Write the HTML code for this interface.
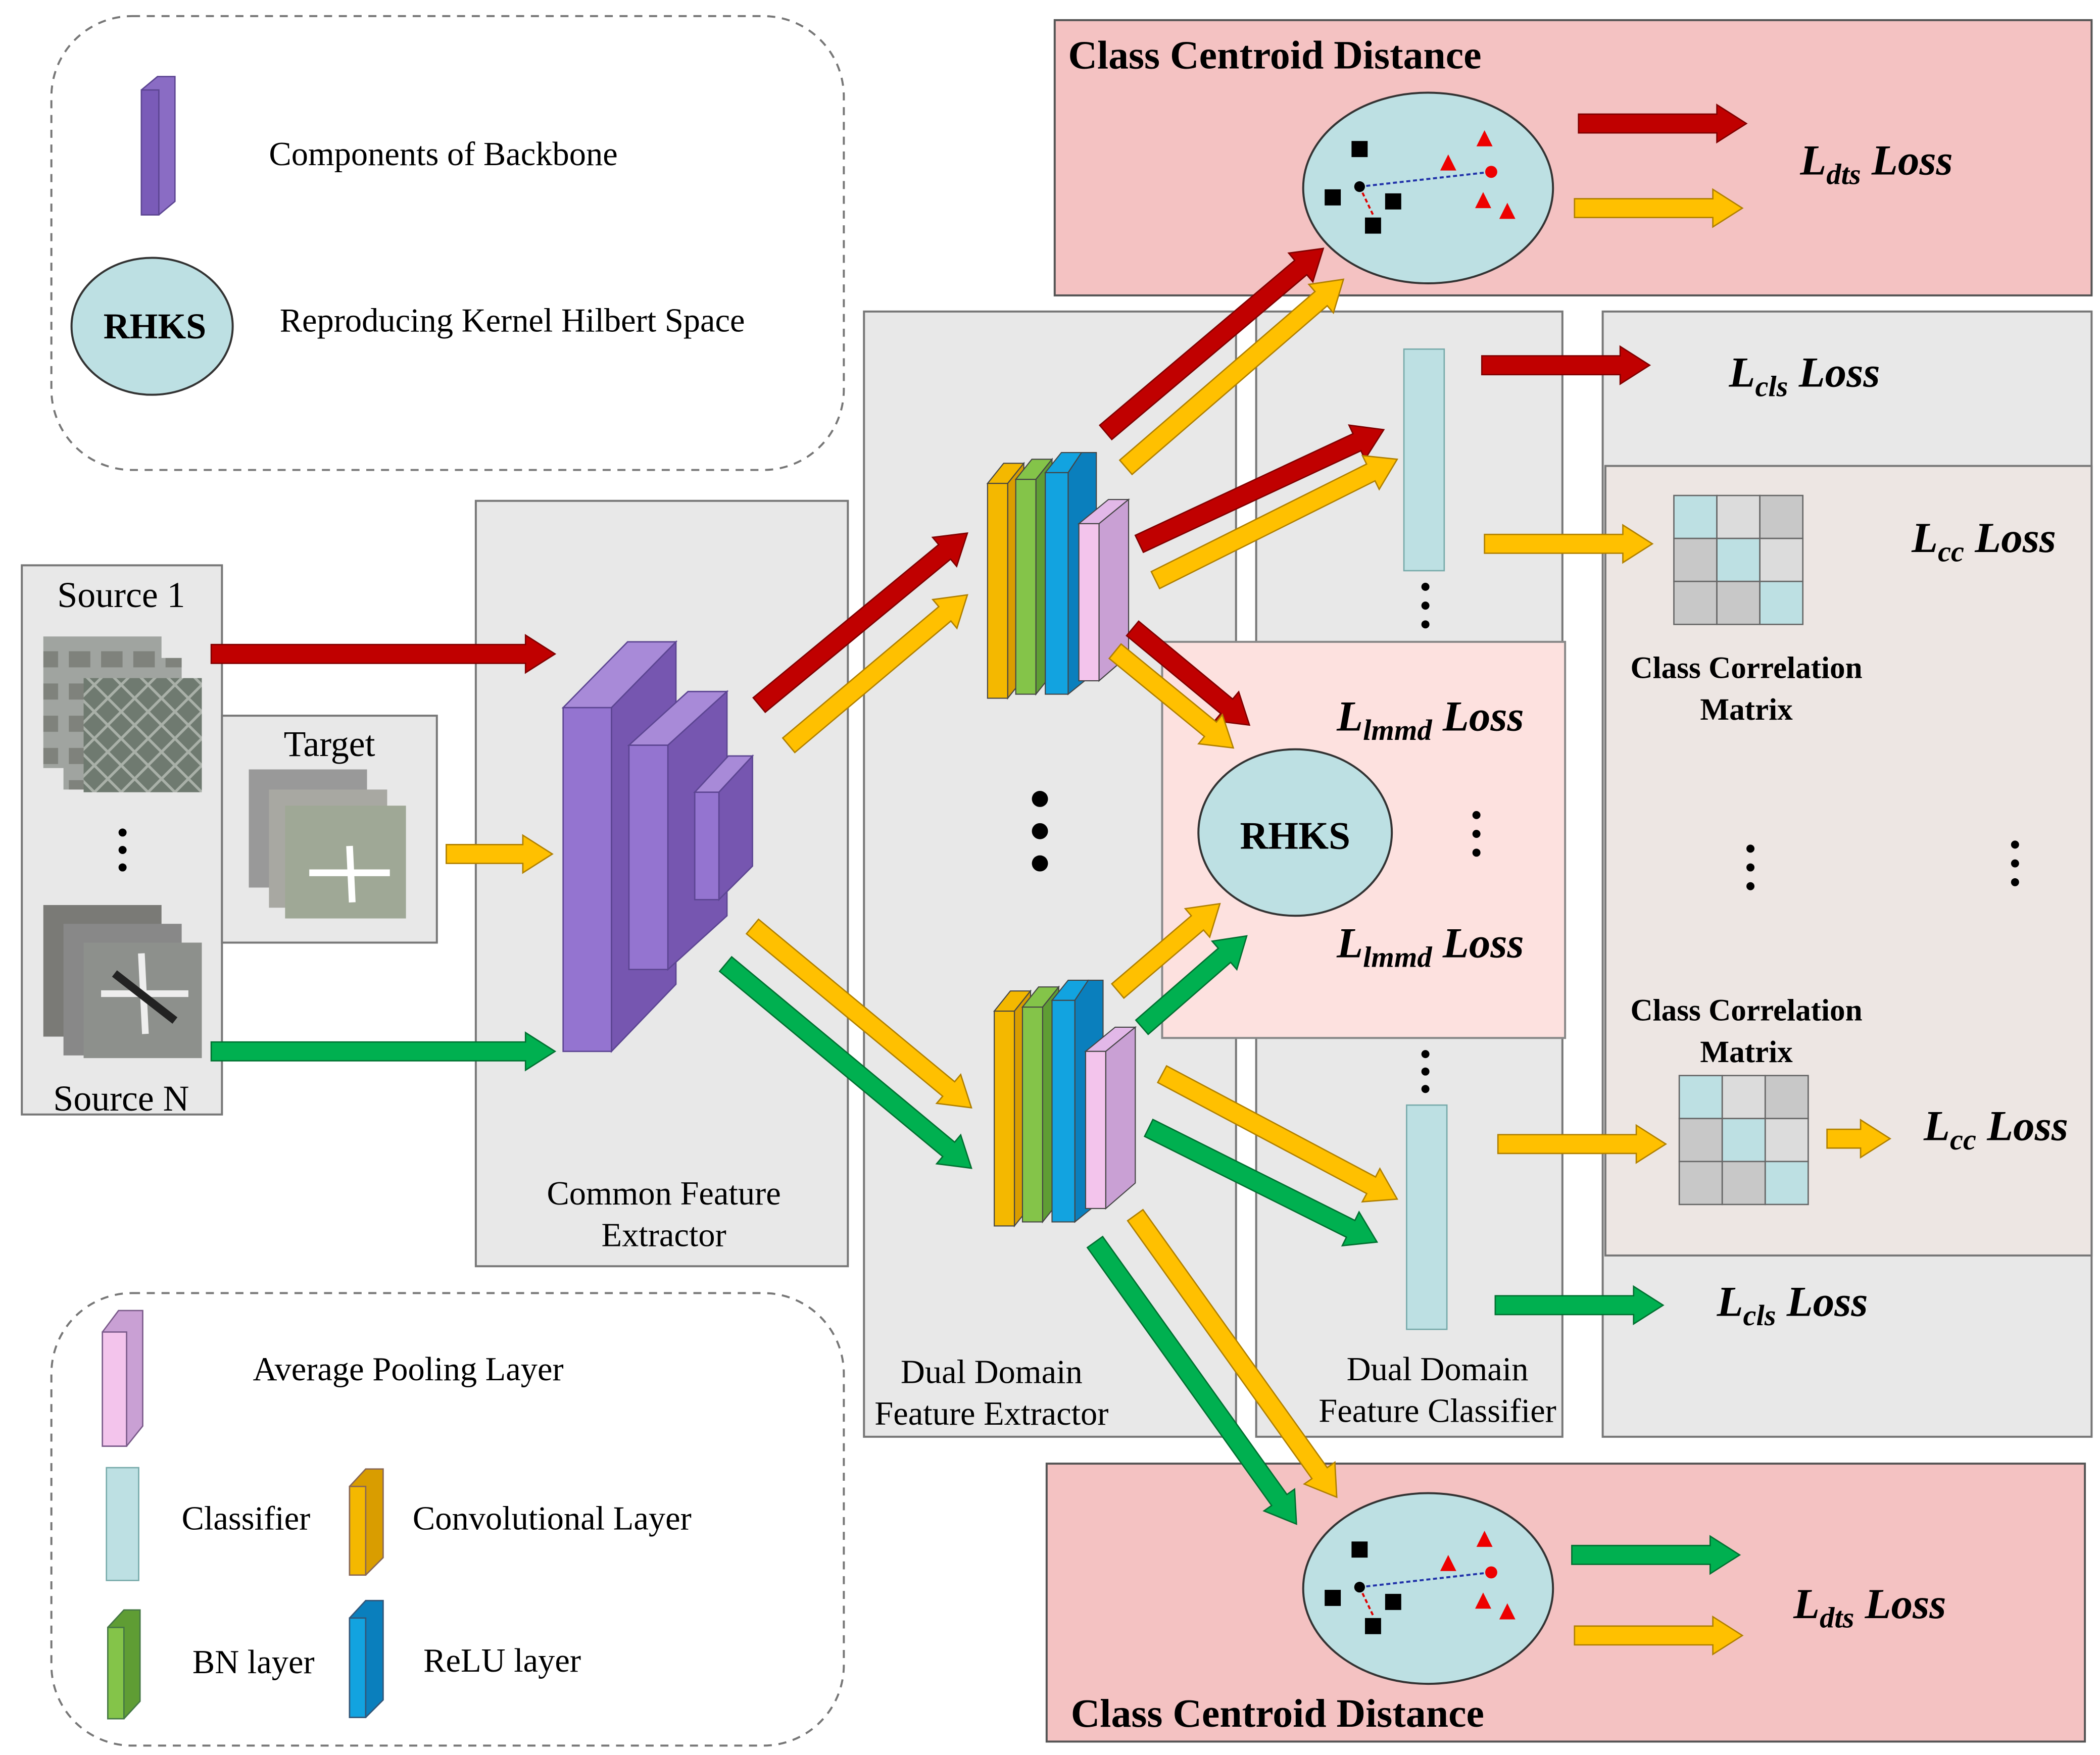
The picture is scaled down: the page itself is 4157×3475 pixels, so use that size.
<!DOCTYPE html>
<html><head><meta charset="utf-8"><style>html,body{margin:0;padding:0;background:#fff}svg{display:block}</style></head>
<body>
<svg id="s" width="4157" height="3475" viewBox="0 0 1563 1307" xmlns="http://www.w3.org/2000/svg" font-family="Liberation Serif, serif">
<defs>
<pattern id="aer" width="20" height="20" patternUnits="userSpaceOnUse">
<rect width="20" height="20" fill="#6f7a70"/><path d="M0 0L20 20M20 0L0 20" stroke="#a9b0a8" stroke-width="2"/>
</pattern>
<pattern id="apt" width="24" height="24" patternUnits="userSpaceOnUse">
<rect width="24" height="24" fill="#a0a4a0"/><rect x="3" y="5" width="16" height="12" fill="#7f827c"/>
</pattern>
</defs>
<rect x="38" y="12" width="590" height="338" rx="60" fill="none" stroke="#777" stroke-width="1.5" stroke-dasharray="6,5"/>
<polygon points="105,67 117,57 130,57 130,150 118,160 105,160" fill="#8a6cc4" stroke="#5c4592"/>
<rect x="105" y="67" width="13" height="93" fill="#7a5bb8" stroke="#5c4592"/>
<text x="200" y="123" font-size="25">Components of  Backbone</text>
<ellipse cx="113" cy="243" rx="60" ry="51" fill="#bde0e3" stroke="#333" stroke-width="1.5"/>
<text x="115" y="252" font-size="27" font-weight="bold" text-anchor="middle">RHKS</text>
<text x="208" y="247" font-size="25">Reproducing Kernel Hilbert Space</text>
<rect x="38" y="963" width="590" height="337" rx="60" fill="none" stroke="#777" stroke-width="1.5" stroke-dasharray="6,5"/>
<polygon points="76,992 88,976 106,976 106,1062 94,1077 76,1077" fill="#c9a0d4" stroke="#7a5a8a"/>
<rect x="76" y="992" width="18" height="85" fill="#f3c4ec" stroke="#7a5a8a"/>
<text x="188" y="1028" font-size="25">Average Pooling Layer</text>
<rect x="79" y="1093" width="24" height="84" fill="#bde0e3" stroke="#7aa"/>
<text x="135" y="1139" font-size="25">Classifier</text>
<polygon points="260,1107 272,1094 285,1094 285,1160 272,1173 260,1173" fill="#d99d00" stroke="#865"/>
<rect x="260" y="1107" width="12" height="66" fill="#f4b800" stroke="#865"/>
<text x="307" y="1139" font-size="25">Convolutional Layer</text>
<polygon points="80,1212 92,1199 104,1199 104,1267 92,1280 80,1280" fill="#5f9d34" stroke="#474"/>
<rect x="80" y="1212" width="12" height="68" fill="#84c449" stroke="#474"/>
<text x="143" y="1246" font-size="25">BN layer</text>
<polygon points="260,1205 272,1192 285,1192 285,1266 272,1279 260,1279" fill="#0a7fbd" stroke="#357"/>
<rect x="260" y="1205" width="12" height="74" fill="#12a3e0" stroke="#357"/>
<text x="315" y="1245" font-size="25">ReLU layer</text>
<rect x="785" y="15" width="772" height="205" fill="#f4c2c2" stroke="#555" stroke-width="1.5"/>
<text x="795" y="51" font-size="30" font-weight="bold">Class Centroid Distance</text>
<rect x="643" y="232" width="277" height="838" fill="#e8e8e8" stroke="#777" stroke-width="1.5"/>
<rect x="935" y="232" width="228" height="838" fill="#e8e8e8" stroke="#777" stroke-width="1.5"/>
<rect x="1193" y="232" width="364" height="838" fill="#e8e8e8" stroke="#777" stroke-width="1.5"/>
<rect x="1195" y="347" width="362" height="588" fill="#ede6e3" stroke="#777" stroke-width="1.5"/>
<rect x="865" y="478" width="300" height="295" fill="#fde1df" stroke="#888" stroke-width="1.5"/>
<rect x="354" y="373" width="277" height="570" fill="#e8e8e8" stroke="#777" stroke-width="1.5"/>
<rect x="16" y="421" width="149" height="409" fill="#e8e8e8" stroke="#777" stroke-width="1.5"/>
<rect x="165" y="533" width="160" height="169" fill="#e8e8e8" stroke="#777" stroke-width="1.5"/>
<rect x="779" y="1090" width="773" height="207" fill="#f4c2c2" stroke="#555" stroke-width="1.5"/>
<text x="797" y="1286" font-size="30" font-weight="bold">Class Centroid Distance</text>
<rect x="32" y="474" width="88" height="98" fill="url(#apt)"/>
<rect x="47" y="490" width="88" height="98" fill="url(#apt)"/>
<rect x="62" y="505" width="88" height="85" fill="url(#aer)"/>
<rect x="32" y="674" width="88" height="98" fill="#7a7a76"/>
<rect x="47" y="688" width="88" height="98" fill="#888"/>
<rect x="62" y="702" width="88" height="86" fill="#8d908c"/>
<path d="M75 740 L140 740 M105 710 L108 770" stroke="#eee" stroke-width="5"/>
<path d="M85 725 L130 760" stroke="#222" stroke-width="6"/>
<rect x="185" y="573" width="88" height="88" fill="#999"/>
<rect x="200" y="588" width="88" height="88" fill="#a8a8a2"/>
<rect x="212" y="600" width="90" height="84" fill="#9fa896"/>
<path d="M230 650 L290 650 M260 630 L262 672" stroke="#fff" stroke-width="5"/>
<text x="90" y="452" font-size="27" text-anchor="middle">Source 1</text>
<text x="90" y="827" font-size="27" text-anchor="middle">Source N</text>
<text x="245" y="563" font-size="27" text-anchor="middle">Target</text>
<text x="494" y="897" font-size="25" text-anchor="middle">Common Feature</text>
<text x="494" y="928" font-size="25" text-anchor="middle">Extractor</text>
<text x="738" y="1030" font-size="25" text-anchor="middle">Dual Domain</text>
<text x="738" y="1061" font-size="25" text-anchor="middle">Feature Extractor</text>
<text x="1070" y="1028" font-size="25" text-anchor="middle">Dual Domain</text>
<text x="1070" y="1059" font-size="25" text-anchor="middle">Feature Classifier</text>
<g stroke="#5c4592" stroke-width="1">
<polygon points="419,527 467,478 503,478 455,527" fill="#a88ad8"/>
<polygon points="455,527 503,478 503,733 455,783" fill="#7656b0"/>
<rect x="419" y="527" width="36" height="256" fill="#9474d0"/>
<polygon points="468,555 497,555 541,515 512,515" fill="#a88ad8"/>
<polygon points="497,555 541,515 541,682 497,722" fill="#7656b0"/>
<rect x="468" y="555" width="29" height="167" fill="#9474d0"/>
<polygon points="517,590 535,590 560,563 542,563" fill="#a88ad8"/>
<polygon points="535,590 560,563 560,645 535,670" fill="#7656b0"/>
<rect x="517" y="590" width="18" height="80" fill="#9474d0"/>
</g>
<g id="lg1" stroke="#444" stroke-width="0.8">
<polygon points="735,360 747,345 762,345 750,360" fill="#f4b800"/><polygon points="750,360 762,345 762,505 750,520" fill="#d99d00"/><rect x="735" y="360" width="15" height="160" fill="#f4b800"/>
<polygon points="756,357 768,342 783,342 771,357" fill="#84c449"/><polygon points="771,357 783,342 783,502 771,517" fill="#5f9d34"/><rect x="756" y="357" width="15" height="160" fill="#84c449"/>
<polygon points="778,352 790,337 805,337 795,352" fill="#12a3e0"/><polygon points="795,352 805,337 816,337 816,500 795,517" fill="#0a7fbd"/><rect x="778" y="352" width="17" height="165" fill="#12a3e0"/>
<polygon points="803,390 818,390 840,372 825,372" fill="#e2b8e8"/><polygon points="818,390 840,372 840,488 818,507" fill="#c9a0d4"/><rect x="803" y="390" width="15" height="117" fill="#f3c4ec"/>
</g>
<g transform="translate(5,393)" stroke="#444" stroke-width="0.8">
<polygon points="735,360 747,345 762,345 750,360" fill="#f4b800"/><polygon points="750,360 762,345 762,505 750,520" fill="#d99d00"/><rect x="735" y="360" width="15" height="160" fill="#f4b800"/>
<polygon points="756,357 768,342 783,342 771,357" fill="#84c449"/><polygon points="771,357 783,342 783,502 771,517" fill="#5f9d34"/><rect x="756" y="357" width="15" height="160" fill="#84c449"/>
<polygon points="778,352 790,337 805,337 795,352" fill="#12a3e0"/><polygon points="795,352 805,337 816,337 816,500 795,517" fill="#0a7fbd"/><rect x="778" y="352" width="17" height="165" fill="#12a3e0"/>
<polygon points="803,390 818,390 840,372 825,372" fill="#e2b8e8"/><polygon points="818,390 840,372 840,488 818,507" fill="#c9a0d4"/><rect x="803" y="390" width="15" height="117" fill="#f3c4ec"/>
</g>
<rect x="1045" y="260" width="30" height="165" fill="#bde0e3" stroke="#7aa"/>
<rect x="1047" y="823" width="30" height="167" fill="#bde0e3" stroke="#7aa"/>
<g stroke="#666" stroke-width="1">
<rect x="1246" y="369" width="32" height="32" fill="#bde0e3"/><rect x="1278" y="369" width="32" height="32" fill="#dcdcdc"/><rect x="1310" y="369" width="32" height="32" fill="#c8c8c8"/>
<rect x="1246" y="401" width="32" height="32" fill="#c8c8c8"/><rect x="1278" y="401" width="32" height="32" fill="#bde0e3"/><rect x="1310" y="401" width="32" height="32" fill="#dcdcdc"/>
<rect x="1246" y="433" width="32" height="32" fill="#c8c8c8"/><rect x="1278" y="433" width="32" height="32" fill="#c8c8c8"/><rect x="1310" y="433" width="32" height="32" fill="#bde0e3"/>
<rect x="1250" y="801" width="32" height="32" fill="#bde0e3"/><rect x="1282" y="801" width="32" height="32" fill="#dcdcdc"/><rect x="1314" y="801" width="32" height="32" fill="#c8c8c8"/>
<rect x="1250" y="833" width="32" height="32" fill="#c8c8c8"/><rect x="1282" y="833" width="32" height="32" fill="#bde0e3"/><rect x="1314" y="833" width="32" height="32" fill="#dcdcdc"/>
<rect x="1250" y="865" width="32" height="32" fill="#c8c8c8"/><rect x="1282" y="865" width="32" height="32" fill="#c8c8c8"/><rect x="1314" y="865" width="32" height="32" fill="#bde0e3"/>
</g>
<g font-size="23" font-weight="bold" text-anchor="middle">
<text x="1300" y="505">Class Correlation</text><text x="1300" y="536">Matrix</text>
<text x="1300" y="760">Class Correlation</text><text x="1300" y="791">Matrix</text>
</g>
<ellipse cx="964" cy="620" rx="72" ry="62" fill="#bde0e3" stroke="#333" stroke-width="1.5"/>
<text x="964" y="632" font-size="29" font-weight="bold" text-anchor="middle">RHKS</text>
<g id="ce">
<ellipse cx="1063" cy="140" rx="93" ry="71" fill="#bde0e3" stroke="#333" stroke-width="1.5"/>
<line x1="1012" y1="139" x2="1110" y2="128" stroke="#2233aa" stroke-width="1.5" stroke-dasharray="3,2"/>
<line x1="1012" y1="139" x2="1022" y2="160" stroke="#d00" stroke-width="1.5" stroke-dasharray="3,2"/>
<rect x="1006" y="105" width="12" height="12" fill="#000"/><rect x="986" y="141" width="12" height="12" fill="#000"/>
<rect x="1031" y="144" width="12" height="12" fill="#000"/><rect x="1016" y="162" width="12" height="12" fill="#000"/>
<circle cx="1012" cy="139" r="4" fill="#000"/><circle cx="1110" cy="128" r="4.5" fill="#e00"/>
<polygon points="1105,97 1111,109 1099,109" fill="#e00"/><polygon points="1078,115 1084,127 1072,127" fill="#e00"/>
<polygon points="1104,143 1110,155 1098,155" fill="#e00"/><polygon points="1122,151 1128,163 1116,163" fill="#e00"/>
</g>
<use href="#ce" transform="translate(0,1043)"/>
<g fill="#000">
<circle cx="91" cy="620" r="3"/><circle cx="91" cy="633" r="3"/><circle cx="91" cy="646" r="3"/>
<circle cx="774" cy="595" r="6"/><circle cx="774" cy="619" r="6"/><circle cx="774" cy="643" r="6"/>
<circle cx="1061" cy="437" r="3"/><circle cx="1061" cy="451" r="3"/><circle cx="1061" cy="465" r="3"/>
<circle cx="1099" cy="607" r="3"/><circle cx="1099" cy="621" r="3"/><circle cx="1099" cy="635" r="3"/>
<circle cx="1303" cy="632" r="3"/><circle cx="1303" cy="646" r="3"/><circle cx="1303" cy="660" r="3"/>
<circle cx="1500" cy="629" r="3"/><circle cx="1500" cy="643" r="3"/><circle cx="1500" cy="657" r="3"/>
<circle cx="1061" cy="785" r="3"/><circle cx="1061" cy="798" r="3"/><circle cx="1061" cy="811" r="3"/>
</g>
<g font-size="32" font-weight="bold" font-style="italic">
<text x="1340" y="130">L<tspan font-size="22" dy="7">dts</tspan><tspan dy="-7"> Loss</tspan></text>
<text x="1287" y="288">L<tspan font-size="22" dy="7">cls</tspan><tspan dy="-7"> Loss</tspan></text>
<text x="1423" y="411">L<tspan font-size="22" dy="7">cc</tspan><tspan dy="-7"> Loss</tspan></text>
<text x="995" y="544">L<tspan font-size="22" dy="7">lmmd</tspan><tspan dy="-7"> Loss</tspan></text>
<text x="995" y="713">L<tspan font-size="22" dy="7">lmmd</tspan><tspan dy="-7"> Loss</tspan></text>
<text x="1432" y="849">L<tspan font-size="22" dy="7">cc</tspan><tspan dy="-7"> Loss</tspan></text>
<text x="1278" y="980">L<tspan font-size="22" dy="7">cls</tspan><tspan dy="-7"> Loss</tspan></text>
<text x="1335" y="1205">L<tspan font-size="22" dy="7">dts</tspan><tspan dy="-7"> Loss</tspan></text>
</g>
<g id="arrows"></g>
</svg>
<script>
var R=["#c00000","#800000"],Y=["#ffc000","#b08000"],G=["#00b050","#007030"];
var A=[[R,157,487,413,487],[G,157,783,413,783],[Y,332,636,411,636],
[R,565,525,720,397],[Y,587,555,720,443],[Y,560,690,723,825],[G,540,718,723,870],
[R,823,322,985,185],[Y,838,348,1000,208],[R,848,405,1030,320],[Y,860,432,1040,342],
[R,1103,272,1228,272],[Y,1105,405,1230,405],[R,843,468,930,540],[Y,830,485,918,557],
[Y,832,738,908,673],[G,850,765,928,697],[Y,865,800,1040,893],[G,855,840,1025,925],
[Y,1115,852,1240,852],[Y,1360,848,1407,848],[G,1113,972,1238,972],
[G,815,925,965,1135],[Y,845,905,995,1115],[R,1175,92,1300,92],[Y,1172,155,1297,155],
[G,1170,1158,1295,1158],[Y,1172,1218,1297,1218]];
var g=document.getElementById("arrows"),s="";
A.forEach(function(a){var c=a[0],x1=a[1],y1=a[2],x2=a[3],y2=a[4];
var dx=x2-x1,dy=y2-y1,L=Math.hypot(dx,dy),ux=dx/L,uy=dy/L,px=-uy,py=ux,w=7,hw=14,hl=22;
var bx=x2-ux*hl,by=y2-uy*hl;
var p=[[x1+px*w,y1+py*w],[bx+px*w,by+py*w],[bx+px*hw,by+py*hw],[x2,y2],[bx-px*hw,by-py*hw],[bx-px*w,by-py*w],[x1-px*w,y1-py*w]];
s+='<polygon points="'+p.map(function(q){return q[0].toFixed(1)+","+q[1].toFixed(1)}).join(" ")+'" fill="'+c[0]+'" stroke="'+c[1]+'" stroke-width="1"/>';});
g.innerHTML=s;
</script>
</body></html>
